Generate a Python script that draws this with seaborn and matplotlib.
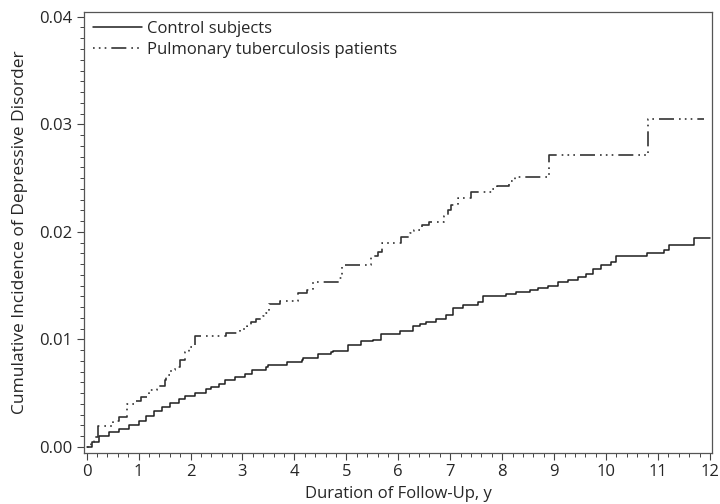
import pandas as pd
import matplotlib
matplotlib.use('Agg')
import matplotlib.pyplot as plt
import seaborn as sns
from matplotlib.ticker import MultipleLocator

# Step points (years, cumulative incidence)
CONTROL_T = [0.0, 0.11, 0.24, 0.43, 0.62, 0.82, 1.01, 1.14, 1.30, 1.46, 1.61, 1.77,
             1.90, 2.09, 2.29, 2.40, 2.54, 2.67, 2.86, 3.05, 3.18, 3.46, 3.50, 3.85,
             4.14, 4.17, 4.46, 4.71, 4.74, 5.03, 5.29, 5.51, 5.67, 6.03, 6.28, 6.41,
             6.54, 6.73, 6.92, 7.05, 7.24, 7.53, 7.63, 8.08, 8.27, 8.53, 8.69, 8.88,
             9.07, 9.26, 9.45, 9.62, 9.74, 9.90, 10.10, 10.19, 10.78, 11.12, 11.22,
             11.70, 12.0]
CONTROL_V = [0.0, 0.00047, 0.0010, 0.0014, 0.0017, 0.0020, 0.0024, 0.0029, 0.0033,
             0.0037, 0.0041, 0.0044, 0.0047, 0.0050, 0.0054, 0.0056, 0.0058, 0.0062,
             0.0065, 0.0068, 0.0071, 0.0074, 0.0076, 0.0079, 0.0081, 0.0083, 0.0086,
             0.0088, 0.0089, 0.0095, 0.0098, 0.0099, 0.0105, 0.0108, 0.0112, 0.0114,
             0.0116, 0.0119, 0.0123, 0.0129, 0.0132, 0.0135, 0.0140, 0.0142, 0.0144,
             0.0146, 0.0148, 0.0150, 0.0153, 0.0155, 0.0158, 0.0161, 0.0165, 0.0169,
             0.0172, 0.0177, 0.0180, 0.0183, 0.0188, 0.0194, 0.0194]

TB_T = [0.0, 0.08, 0.15, 0.22, 0.50, 0.62, 0.77, 0.95, 1.05, 1.20, 1.35, 1.50, 1.53,
        1.62, 1.70, 1.79, 1.90, 1.97, 2.08, 2.69, 2.95, 3.08, 3.17, 3.27, 3.40, 3.46,
        3.51, 3.72, 4.07, 4.25, 4.36, 4.85, 4.92, 5.48, 5.60, 5.69, 6.05, 6.22, 6.30,
        6.46, 6.60, 6.88, 6.95, 7.02, 7.15, 7.40, 7.80, 7.90, 8.13, 8.25, 8.91, 10.80,
        11.88]
TB_V = [0.0, 0.0004, 0.0009, 0.0019, 0.0024, 0.0028, 0.0040, 0.0043, 0.0046, 0.0053,
        0.0057, 0.0062, 0.0067, 0.0071, 0.0074, 0.0081, 0.0088, 0.0093, 0.0103, 0.0106,
        0.0110, 0.0112, 0.0116, 0.0119, 0.0122, 0.0124, 0.0133, 0.0136, 0.0143, 0.0146,
        0.0153, 0.0157, 0.0169, 0.0177, 0.0181, 0.0190, 0.0195, 0.0199, 0.0202, 0.0206,
        0.0209, 0.0215, 0.0220, 0.0225, 0.0231, 0.0237, 0.0240, 0.0243, 0.0247, 0.0251,
        0.0271, 0.0305, 0.0305]

LABELS = ['Control subjects', 'Pulmonary tuberculosis patients']

sns.set_style('ticks')
plt.rcParams['font.family'] = ['Open Sans', 'DejaVu Sans']

fig = plt.figure(figsize=(7.2, 5.04), dpi=100)
ax = fig.add_axes([0.1167, 0.102, 0.8723, 0.8748])

control = pd.DataFrame({'t': CONTROL_T, 'v': CONTROL_V})
tb = pd.DataFrame({'t': TB_T, 'v': TB_V})

sns.lineplot(data=control, x='t', y='v', ax=ax, color='#1e1e1e', lw=1.1,
             drawstyle='steps-post', label=LABELS[0])
sns.lineplot(data=tb, x='t', y='v', ax=ax, color='#333333', lw=1.2,
             drawstyle='steps-post', label=LABELS[1],
             linestyle=(12, (9, 3, 1, 2.5, 1, 2.5, 1, 3)))

ax.set_xlim(-0.05, 12.04)
ax.set_ylim(-0.00054, 0.04047)
ax.xaxis.set_major_locator(MultipleLocator(1))
ax.xaxis.set_minor_locator(MultipleLocator(0.2))
ax.yaxis.set_major_locator(MultipleLocator(0.01))
ax.yaxis.set_minor_locator(MultipleLocator(0.001))
ax.yaxis.set_major_formatter(plt.FormatStrFormatter('%.2f'))
ax.tick_params(which='major', length=5, width=0.8, labelsize=12, color='#444444')
ax.tick_params(which='minor', length=3, width=0.7, color='#444444')
for s in ax.spines.values():
    s.set_color('#555555')
    s.set_linewidth(0.9)

ax.set_xlabel('Duration of Follow-Up, y', fontsize=12, labelpad=4)
ax.set_ylabel('Cumulative Incidence of Depressive Disorder', fontsize=12.5, labelpad=8)

ax.legend(loc='upper left', frameon=False, fontsize=12, handlelength=2.9,
          handletextpad=0.3, labelspacing=0.3, borderaxespad=0.3,
          borderpad=0.25)

fig.savefig('out.png', dpi=100)
